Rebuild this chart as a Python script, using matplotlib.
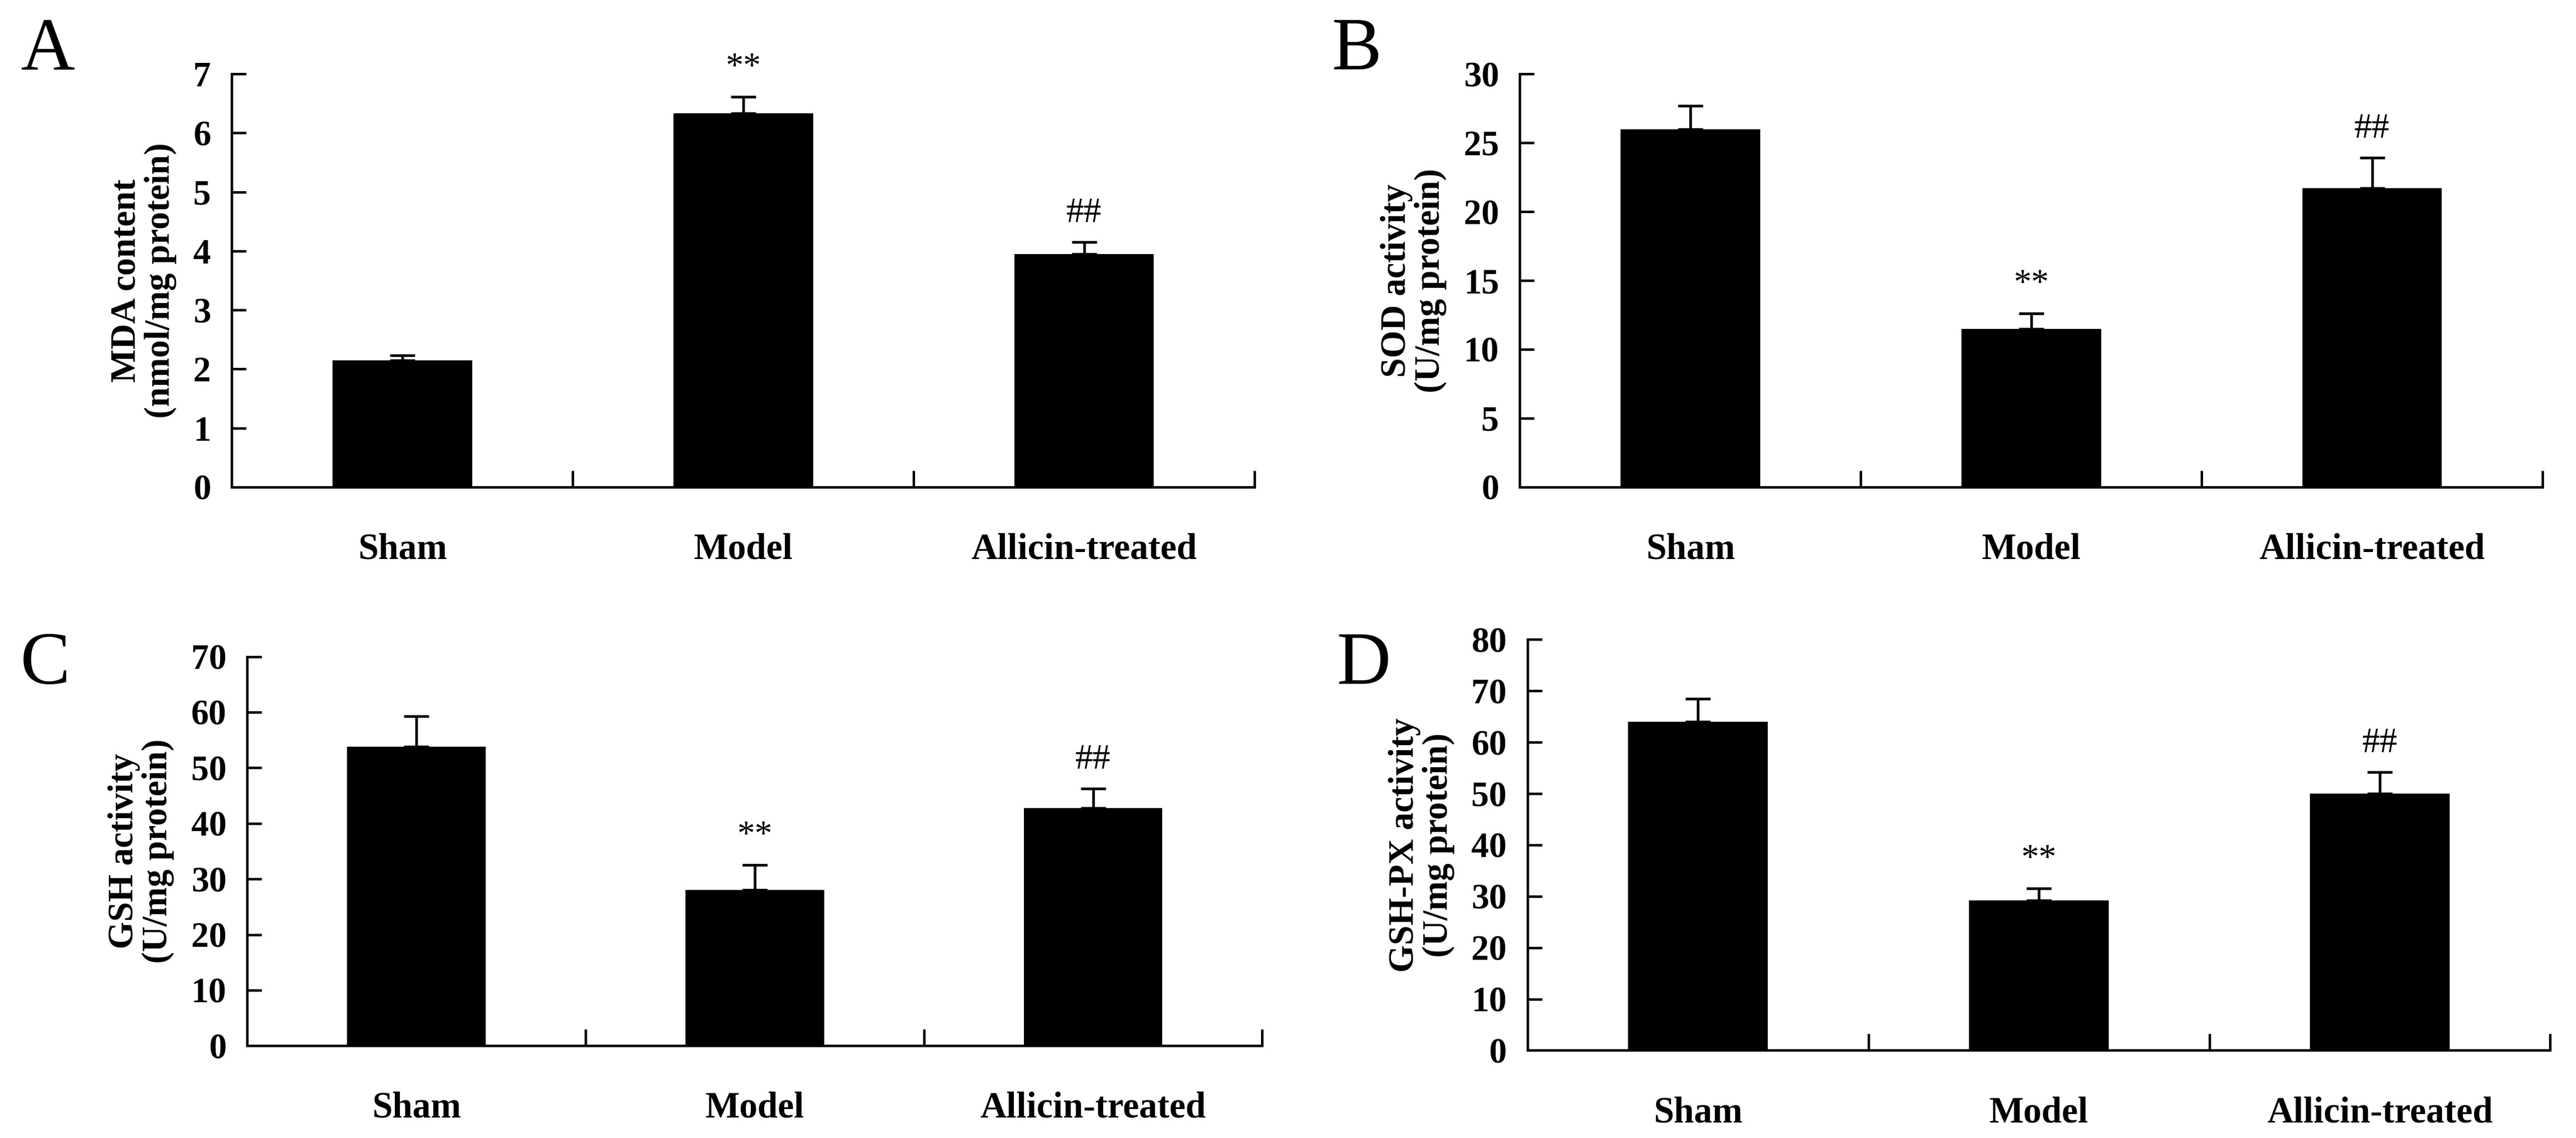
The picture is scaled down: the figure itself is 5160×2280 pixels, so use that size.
import matplotlib
matplotlib.use("Agg")
import matplotlib.pyplot as plt
import numpy as np

plt.rcParams['font.family'] = ['Liberation Serif', 'DejaVu Serif']

groups = ["Sham", "Model", "Allicin-treated"]

mda = [2.15, 6.33, 3.95]
mda_err = [0.08, 0.28, 0.20]
sod = [26.0, 11.5, 21.7]
sod_err = [1.7, 1.1, 2.2]
gsh = [53.8, 28.0, 42.8]
gsh_err = [5.5, 4.5, 3.5]
gshpx = [64.0, 29.2, 50.0]
gshpx_err = [4.5, 2.3, 4.2]

marks = ["", "**", "##"]

panels = [
    ("A", mda, mda_err, "MDA content\n(nmol/mg protein)", 7, 1, [0.090, 0.572, 0.397, 0.363]),
    ("B", sod, sod_err, "SOD activity\n(U/mg protein)", 30, 5, [0.590, 0.572, 0.397, 0.363]),
    ("C", gsh, gsh_err, "GSH activity\n(U/mg protein)", 70, 10, [0.096, 0.081, 0.394, 0.342]),
    ("D", gshpx, gshpx_err, "GSH-PX activity\n(U/mg protein)", 80, 10, [0.593, 0.077, 0.397, 0.361]),
]
letter_pos = {"A": (0.008, 0.985), "B": (0.517, 0.985), "C": (0.008, 0.445), "D": (0.519, 0.445)}

fig = plt.figure(figsize=(17.2, 7.6), dpi=300)

for name, vals, errs, ylab, ymax, step, rect in panels:
    ax = fig.add_axes(rect)
    x = np.arange(len(vals)) + 0.5
    ax.bar(x, vals, width=0.41, color="black", zorder=2)
    ax.errorbar(x, vals, yerr=[np.zeros(len(errs)), errs], fmt="none",
                ecolor="black", elinewidth=1.3, capsize=6, capthick=1.3, zorder=3)
    for xi, v, e, m in zip(x, vals, errs, marks):
        if m:
            ax.annotate(m, (xi, v + e), xytext=(0, 6), textcoords="offset points",
                        ha="center", va="bottom", fontsize=17)
    ax.set_xlim(0, 3)
    ax.set_ylim(0, ymax)
    ax.set_yticks(np.arange(0, ymax + step / 2, step))
    ax.set_xticks([0, 1, 2, 3])
    ax.set_xticklabels([])
    ax.set_xticks(x, minor=True)
    ax.set_xticklabels(groups, minor=True)
    ax.tick_params(axis="x", which="major", direction="in", length=8, width=1.2)
    ax.tick_params(axis="x", which="minor", length=0, pad=22, labelsize=17.5)
    ax.tick_params(axis="y", direction="in", length=7, width=1.2, labelsize=17, pad=10)
    for lab in ax.get_xticklabels(minor=True) + ax.get_yticklabels():
        lab.set_fontweight("bold")
    ax.spines["top"].set_visible(False)
    ax.spines["right"].set_visible(False)
    ax.spines["left"].set_linewidth(1.2)
    ax.spines["bottom"].set_linewidth(1.2)
    ax.set_ylabel(ylab, fontsize=17, fontweight="bold", labelpad=8, linespacing=1.05)
    lx, ly = letter_pos[name]
    fig.text(lx, ly, name, fontsize=36, ha="left", va="top")

fig.savefig("out.png", dpi=300)
